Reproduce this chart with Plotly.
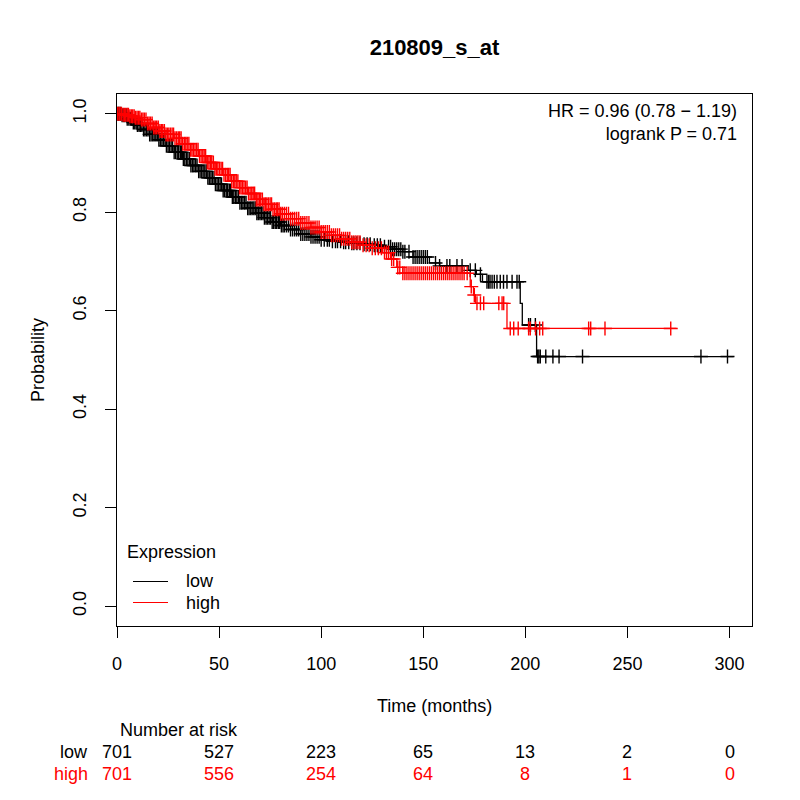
import numpy as np
import plotly.graph_objects as go

# Kaplan-Meier curves (time in months, survival probability)
low_time = [0, 2, 5, 8, 10, 13, 16, 20, 24, 28, 32, 36, 40, 44, 48, 52, 56, 60, 64, 68,
            72, 76, 80, 85, 90, 95, 100, 105, 110, 115, 120, 125, 130, 135, 140, 145,
            153, 158, 172, 176, 179, 197.5, 198.5, 205.5, 302]
low_surv = [1.0, 0.997, 0.99, 0.982, 0.977, 0.968, 0.958, 0.947, 0.935, 0.922, 0.908,
            0.895, 0.883, 0.870, 0.857, 0.844, 0.831, 0.819, 0.808, 0.798, 0.789, 0.780,
            0.773, 0.765, 0.756, 0.750, 0.744, 0.741, 0.739, 0.737, 0.735, 0.733, 0.730,
            0.725, 0.720, 0.709, 0.697, 0.691, 0.682, 0.674, 0.659, 0.615, 0.571, 0.507,
            0.507]

high_time = [0, 3, 6, 9, 12, 15, 18, 21, 24, 28, 32, 36, 40, 44, 48, 52, 56, 60, 64, 68,
             72, 76, 80, 85, 90, 95, 100, 105, 110, 115, 120, 125, 130, 134, 137, 140,
             173, 174.6, 175.5, 191, 274]
high_surv = [1.0, 0.998, 0.995, 0.992, 0.988, 0.980, 0.972, 0.965, 0.958, 0.950, 0.939,
             0.927, 0.914, 0.901, 0.888, 0.876, 0.863, 0.850, 0.838, 0.826, 0.816, 0.806,
             0.797, 0.787, 0.778, 0.769, 0.760, 0.753, 0.746, 0.739, 0.733, 0.727, 0.718,
             0.705, 0.688, 0.676, 0.649, 0.632, 0.615, 0.564, 0.564]

# censoring times (marked with +)
low_cens = [0.5, 1, 1.8, 2.5, 3.2, 3.8, 4.5, 5, 5.8, 6.5, 7.2, 8, 8.7, 9.4, 10, 10.8, 11.5,
            12.2, 13, 13.7, 14.5, 15.2, 16, 16.7, 17.5, 18.2, 19, 19.7, 20.5, 21.2, 22,
            22.7, 23.5, 24.2, 25, 25.7, 26.5, 27.2, 28, 28.7, 29.5, 30.2, 31, 31.7, 32.5,
            33.2, 34, 34.7, 35.5, 36.2, 37, 37.7, 38.5, 39.2, 40, 40.7, 41.5, 42.2, 43,
            43.7, 44.5, 45.2, 46, 46.7, 47.5, 48.2, 49, 49.7, 50.5, 51.2, 52, 52.7, 53.5,
            54.2, 55, 55.7, 56.5, 57.2, 58, 58.7, 59.5, 60.2, 61, 61.7, 62.5, 63.2, 64,
            64.7, 65.5, 66.2, 67, 67.7, 68.5, 69.2, 70, 70.7, 71.5, 72.2, 73, 73.7, 74.5,
            75.2, 76, 76.7, 77.5, 78.2, 79, 79.7, 80.5, 81.3, 82, 83, 84, 85, 86, 87, 88,
            89, 90, 91, 92, 93, 94, 95, 96, 97, 98, 99, 100, 101.5, 103, 104, 105.5, 107,
            108, 109.5, 111, 112, 113.5, 115, 116, 117.5, 119, 121, 122.5, 124, 126, 127.5,
            129, 131, 133, 134, 135, 136, 137, 138, 139, 140, 141, 143, 145, 146, 147, 148,
            149, 150, 151, 152, 156, 158, 161.6, 163, 166.5, 169, 173, 175.5, 178, 181.2,
            182, 182.7, 183.7, 184.8, 186.1, 187.7, 189.3, 191, 193.5, 195.9, 197, 201.6,
            202.5, 204.9, 206, 206.6, 207.3, 210, 213.5, 216.5, 228, 286, 299]
high_cens = [0.3, 1, 1.5, 2.2, 3, 3.6, 4.3, 5, 5.6, 6.3, 7, 7.7, 8.4, 9, 9.8, 10.5, 11.2,
             12, 12.7, 13.4, 14.2, 15, 15.7, 16.4, 17.2, 18, 18.7, 19.4, 20.2, 21, 21.7,
             22.4, 23.2, 24, 24.7, 25.4, 26.2, 27, 27.7, 28.4, 29.2, 30, 30.7, 31.4, 32.2,
             33, 33.7, 34.4, 35.2, 36, 36.7, 37.4, 38.2, 39, 39.7, 40.4, 41.2, 42, 42.7,
             43.4, 44.2, 45, 45.7, 46.4, 47.2, 48, 48.7, 49.4, 50.2, 51, 51.7, 52.4, 53.2,
             54, 54.7, 55.4, 56.2, 57, 57.7, 58.4, 59.2, 60, 60.7, 61.4, 62.2, 63, 63.7,
             64.4, 65.2, 66, 66.7, 67.4, 68.2, 69, 69.7, 70.4, 71.2, 72, 72.7, 73.4, 74.2,
             75, 75.7, 76.4, 77.2, 78, 78.7, 79.4, 80.2, 81, 82, 83, 84, 85, 86, 87, 88, 89,
             90, 91, 92, 93, 94, 95, 96, 97, 98, 99, 100, 101, 102, 103, 104, 105, 106,
             107, 108, 109, 110, 111, 112, 113, 114, 115, 116, 117, 118, 119, 120.5, 122,
             123.5, 125, 126.5, 128, 129.5, 131, 132, 133, 134.5, 135.5, 137.5, 138.5, 140,
             141, 142, 143, 144, 145, 146, 147, 148, 149, 150, 151, 152, 153, 154, 155, 156,
             157, 158, 159, 160, 161, 162, 163, 164, 165, 166, 167, 168, 169, 170, 171.5,
             173.5, 175, 176.3, 178, 179.6, 187, 188.6, 189.4, 192.6, 194.3, 196.5, 201.6,
             202.4, 205, 207, 208.5, 231, 232, 239, 271.2]

# number at risk table
risk_times = [0, 50, 100, 150, 200, 250, 300]
risk_low = [701, 527, 223, 65, 13, 2, 0]
risk_high = [701, 556, 254, 64, 8, 1, 0]

BLACK = '#000000'
RED = '#FF0000'
FONT = 'Liberation Sans, Arial, Helvetica, sans-serif'


def surv_at(times, surv, t):
    idx = np.searchsorted(np.array(times), np.array(t), side='right') - 1
    return np.array(surv)[idx]


# plot area in screen pixels; the page body adds an 8px offset
OFF = 8
L, R, T, B = 117, 752, 94, 626


def px(x):
    return (x - L) / (R - L)


def py(y):
    return (B - y) / (B - T)


fig = go.Figure()

for times, surv, cens, col in [(low_time, low_surv, low_cens, BLACK),
                               (high_time, high_surv, high_cens, RED)]:
    fig.add_trace(go.Scatter(x=times, y=surv, mode='lines', line_shape='hv',
                             line=dict(color=col, width=1.3), showlegend=False,
                             hoverinfo='skip'))
    fig.add_trace(go.Scatter(x=cens, y=surv_at(times, surv, cens), mode='markers',
                             marker=dict(symbol='cross-thin', size=10,
                                         line=dict(color=col, width=1.4)),
                             showlegend=False, hoverinfo='skip'))

annotations = [
    dict(text='HR = 0.96 (0.78 \u2212 1.19)<br>logrank P = 0.71', x=px(739), y=py(122),
         xanchor='right', yanchor='middle', align='right', font=dict(size=18)),
    dict(text='Probability', x=px(38), y=0.5, textangle=-90, xanchor='center',
         font=dict(size=18)),
    dict(text='Time (months)', x=0.5, y=py(706), xanchor='center', font=dict(size=18)),
    dict(text='Number at risk', x=px(118), y=py(730), xanchor='left', font=dict(size=18)),
    dict(text='low', x=px(90), y=py(752), xanchor='right', font=dict(size=18)),
    dict(text='high', x=px(90), y=py(774), xanchor='right', font=dict(size=18, color=RED)),
    dict(text='Expression', x=px(125), y=py(552), xanchor='left', font=dict(size=18)),
    dict(text='low', x=px(184), y=py(581), xanchor='left', font=dict(size=18)),
    dict(text='high', x=px(184), y=py(603), xanchor='left', font=dict(size=18)),
]
for t, n in zip(risk_times, risk_low):
    annotations.append(dict(text=str(n), x=t, xref='x', y=py(752), xanchor='center',
                            font=dict(size=18)))
for t, n in zip(risk_times, risk_high):
    annotations.append(dict(text=str(n), x=t, xref='x', y=py(774), xanchor='center',
                            font=dict(size=18, color=RED)))
for a in annotations:
    a.setdefault('xref', 'paper')
    a.setdefault('yref', 'paper')
    a['showarrow'] = False
    a.setdefault('yanchor', 'middle')

shapes = [
    dict(type='line', xref='paper', yref='paper', x0=px(133), x1=px(168),
         y0=py(581.5), y1=py(581.5), line=dict(color=BLACK, width=1.2)),
    dict(type='line', xref='paper', yref='paper', x0=px(133), x1=px(168),
         y0=py(602.5), y1=py(602.5), line=dict(color=RED, width=1.2)),
]

fig.update_layout(
    width=800, height=800,
    margin=dict(l=L - OFF, r=800 + OFF - R, t=T - OFF, b=800 + OFF - B),
    paper_bgcolor='white', plot_bgcolor='white',
    font=dict(family=FONT, size=18, color=BLACK),
    title=dict(text='<b>210809_s_at</b>', x=0.5, xref='paper', y=1 - (47 - OFF) / 800,
               yanchor='middle', font=dict(size=22)),
    showlegend=False,
    annotations=annotations,
    shapes=shapes,
)
fig.update_xaxes(range=[0, 311], tickvals=risk_times, showgrid=False, zeroline=False,
                 showline=True, mirror=True, linecolor=BLACK, linewidth=1,
                 ticks='outside', ticklen=11, tickcolor=BLACK, tickwidth=1,
                 ticklabelstandoff=10)
fig.update_yaxes(range=[-0.04, 1.04], tickvals=[0, 0.2, 0.4, 0.6, 0.8, 1.0],
                 tickformat='.1f', tickangle=-90, showgrid=False, zeroline=False,
                 showline=True, mirror=True, linecolor=BLACK, linewidth=1,
                 ticks='outside', ticklen=11, tickcolor=BLACK, tickwidth=1,
                 ticklabelstandoff=12)

fig.write_html('out.html')
